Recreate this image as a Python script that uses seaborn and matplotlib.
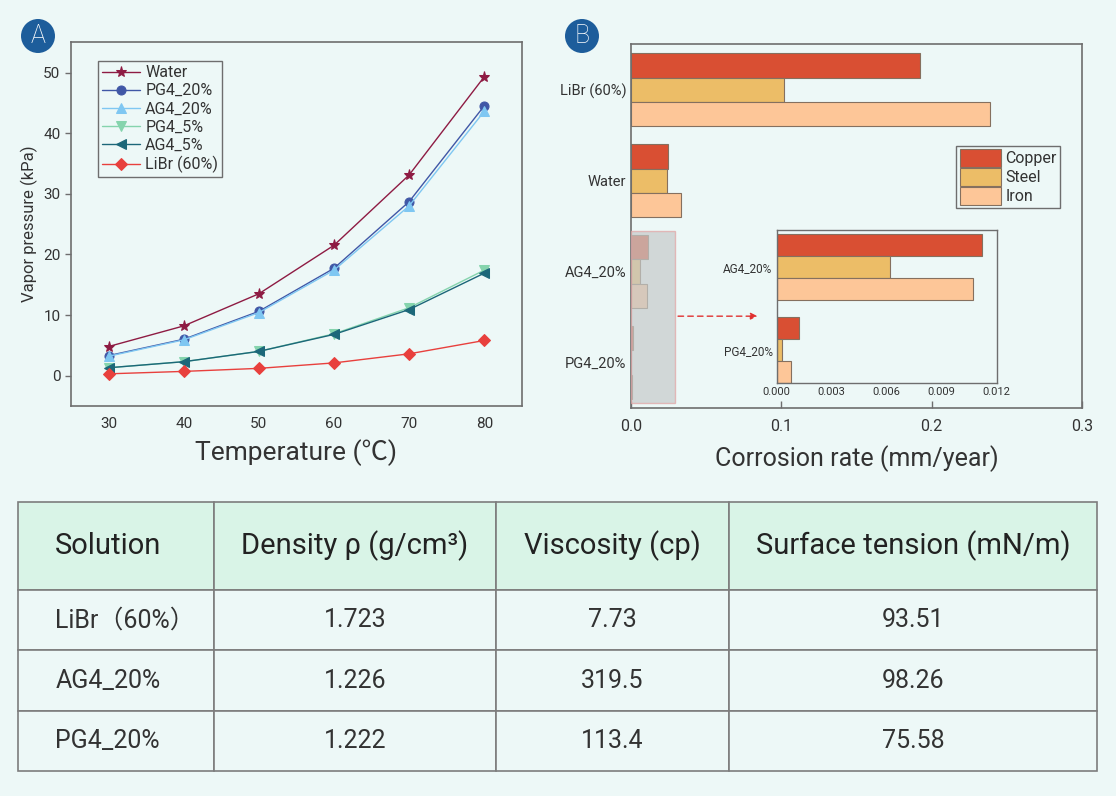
import pandas as pd
import matplotlib.pyplot as plt
import seaborn as sns
from matplotlib.patches import Rectangle

# Data
temps = [30, 40, 50, 60, 70, 80]
water = [4.8, 8.2, 13.5, 21.5, 33.1, 49.3]
pg4_20 = [3.3, 6.0, 10.6, 17.7, 28.7, 44.5]
ag4_20 = [3.2, 5.9, 10.4, 17.4, 28.0, 43.6]
pg4_5 = [1.3, 2.3, 4.0, 6.9, 11.2, 17.4]
ag4_5 = [1.3, 2.3, 4.0, 6.8, 10.9, 16.9]
libr = [0.3, 0.7, 1.2, 2.1, 3.6, 5.8]
vp_names = ["Water", "PG4_20%", "AG4_20%", "PG4_5%", "AG4_5%", "LiBr (60%)"]

solutions = ["LiBr (60%)", "Water", "AG4_20%", "PG4_20%"]
metals = ["Copper", "Steel", "Iron"]
copper = [0.192, 0.0244, 0.0112, 0.0012]
steel = [0.102, 0.0242, 0.0062, 0.0003]
iron = [0.239, 0.0335, 0.0107, 0.0008]

table_cols = ["Solution", "Density ρ (g/cm³)", "Viscosity (cp)", "Surface tension (mN/m)"]
table_solutions = ["LiBr（60%）", "AG4_20%", "PG4_20%"]
density = ["1.723", "1.226", "1.222"]
viscosity = ["7.73", "319.5", "113.4"]
surface_tension = ["93.51", "98.26", "75.58"]

# Style
BG = "#edf8f7"
TXT = "#333333"
SPINE = "#6e6e6e"
sns.set_theme(style="ticks")
plt.rcParams["font.family"] = ["Roboto", "Noto Sans CJK SC", "DejaVu Sans"]
plt.rcParams["text.color"] = TXT
plt.rcParams["axes.labelcolor"] = TXT
plt.rcParams["xtick.color"] = TXT
plt.rcParams["ytick.color"] = TXT

fig = plt.figure(figsize=(11.16, 7.96), dpi=100, facecolor=BG)

# ---- Panel A : vapor pressure ----
axA = fig.add_axes([0.0636, 0.490, 0.404, 0.457], facecolor=BG)
df_vp = pd.DataFrame({"Temperature": temps, "Water": water, "PG4_20%": pg4_20,
                      "AG4_20%": ag4_20, "PG4_5%": pg4_5, "AG4_5%": ag4_5,
                      "LiBr (60%)": libr})
df_vp = df_vp.melt(id_vars="Temperature", var_name="Solution", value_name="Pressure")
vp_palette = {"Water": "#8e1b43", "PG4_20%": "#4057a6", "AG4_20%": "#7fc7f2",
              "PG4_5%": "#85d4ad", "AG4_5%": "#1c6779", "LiBr (60%)": "#e8403d"}
vp_markers = {"Water": "*", "PG4_20%": "o", "AG4_20%": "^", "PG4_5%": "v",
              "AG4_5%": "<", "LiBr (60%)": "D"}
sns.lineplot(data=df_vp, x="Temperature", y="Pressure", hue="Solution", style="Solution",
             hue_order=vp_names, style_order=vp_names, palette=vp_palette,
             markers=vp_markers, dashes=False, linewidth=1, markersize=6.5, ax=axA)
for ln in axA.lines:
    ln.set_markeredgecolor(ln.get_color())
    if ln.get_marker() == "*":
        ln.set_markersize(8)
handles = axA.get_legend().legend_handles
for h in handles:
    h.set_markeredgecolor(h.get_color())
    h.set_markersize(8 if h.get_marker() == "*" else 6.5)
    h.set_linewidth(1)
axA.legend(handles, vp_names, loc="upper left", bbox_to_anchor=(0.06, 0.948),
           borderaxespad=0, frameon=True, fancybox=False, edgecolor=SPINE,
           facecolor=BG, framealpha=1, fontsize=11.5, handlelength=2.4,
           labelspacing=0.2, handletextpad=0.3, borderpad=0.25)
axA.set_xlim(25, 85)
axA.set_ylim(-5, 55)
axA.set_xticks(temps)
axA.set_yticks([0, 10, 20, 30, 40, 50])
axA.set_xlabel("Temperature (℃)", fontsize=19, labelpad=6)
axA.set_ylabel("Vapor pressure (kPa)", fontsize=12)
axA.tick_params(axis="x", length=0, labelsize=11, pad=8)
axA.tick_params(axis="y", direction="out", length=4, width=1, color=SPINE, labelsize=11)
for s in axA.spines.values():
    s.set_visible(True)
    s.set_color(SPINE)
    s.set_linewidth(1.2)

# ---- Panel B : corrosion rate ----
metal_palette = {"Copper": "#d94f33", "Steel": "#ecbd67", "Iron": "#fdc698"}
df_cr = pd.DataFrame({"Solution": solutions, "Copper": copper, "Steel": steel, "Iron": iron})
df_cr = df_cr.melt(id_vars="Solution", var_name="Metal", value_name="Rate")

axB = fig.add_axes([0.5654, 0.4874, 0.404, 0.457], facecolor=BG)
sns.barplot(data=df_cr, y="Solution", x="Rate", hue="Metal", order=solutions,
            hue_order=metals, palette=metal_palette, orient="h", errorbar=None,
            width=0.8, saturation=1, edgecolor="#85705f", linewidth=0.8, ax=axB)
axB.legend(loc="upper right", bbox_to_anchor=(0.951, 0.72), borderaxespad=0,
           frameon=True, fancybox=False, edgecolor=SPINE, facecolor=BG, framealpha=1,
           fontsize=11.5, handlelength=2.6, handleheight=1.3, labelspacing=0.1,
           handletextpad=0.25, borderpad=0.2)
axB.set_xlim(0, 0.3)
axB.set_ylim(3.5, -0.5)
axB.set_xticks([0, 0.1, 0.2, 0.3])
axB.set_xticklabels(["0.0", "0.1", "0.2", "0.3"])
axB.set_xlabel("Corrosion rate (mm/year)", fontsize=18, labelpad=8)
axB.set_ylabel("")
axB.tick_params(axis="x", direction="in", length=5, width=1, color=SPINE, labelsize=11.5, pad=8)
axB.tick_params(axis="y", length=0, labelsize=10.5)
for s in axB.spines.values():
    s.set_visible(True)
    s.set_color(SPINE)
    s.set_linewidth(1.2)

# zoomed region shade and arrow
axB.add_patch(Rectangle((0, 1.55), 0.0296, 1.89, facecolor="#c6caca", alpha=0.7,
                        edgecolor="#e3a3a3", linewidth=1, zorder=4))
axB.annotate("", xy=(0.0842, 2.49), xytext=(0.0313, 2.49),
             arrowprops=dict(arrowstyle="-|>", linestyle=(0, (4, 3)), color="#e03030",
                             lw=1, mutation_scale=10, shrinkA=0, shrinkB=0), zorder=5)

# inset
axI = fig.add_axes([0.696, 0.519, 0.197, 0.192], facecolor=BG, zorder=5)
sns.barplot(data=df_cr[df_cr["Solution"].isin(solutions[2:])], y="Solution", x="Rate",
            hue="Metal", order=solutions[2:], hue_order=metals, palette=metal_palette,
            orient="h", errorbar=None, width=0.8, saturation=1, edgecolor="#85705f",
            linewidth=0.8, legend=False, ax=axI)
axI.set_xlim(0, 0.012)
axI.set_ylim(1.4, -0.45)
axI.set_xticks([0, 0.003, 0.006, 0.009, 0.012])
axI.set_xticklabels(["0.000", "0.003", "0.006", "0.009", "0.012"])
axI.set_xlabel("")
axI.set_ylabel("")
axI.tick_params(axis="both", length=0)
axI.tick_params(axis="x", pad=3, labelsize=8)
axI.tick_params(axis="y", pad=3, labelsize=8.5)
for s in axI.spines.values():
    s.set_visible(True)
    s.set_color(SPINE)
    s.set_linewidth(1)

# panel badges
for x, y, letter in [(38, 36, "A"), (582, 36, "B")]:
    fig.text(x / 1116, 1 - y / 796, letter, color="white", fontsize=18, ha="center",
             va="center", fontweight="light",
             bbox=dict(boxstyle="circle,pad=0.2", facecolor="#1d5d9b", edgecolor="none"))

# ---- Table ----
axT = fig.add_axes([0.0161, 0.0314, 0.9668, 0.338])
axT.axis("off")
cells = [[table_solutions[i], density[i], viscosity[i], surface_tension[i]]
         for i in range(len(table_solutions))]
tbl = axT.table(cellText=cells, colLabels=table_cols, bbox=[0, 0, 1, 1],
                colWidths=[0.1817, 0.2613, 0.2159, 0.3411], cellLoc="center")
tbl.auto_set_font_size(False)
for (r, c), cell in tbl.get_celld().items():
    cell.set_edgecolor("#7d7d7d")
    cell.set_linewidth(1.2)
    cell.set_height(0.327 if r == 0 else 0.224)
    cell.get_text().set_color("#222222" if r == 0 else TXT)
    cell.get_text().set_fontsize(21 if r == 0 else 18)
    cell.set_facecolor("#d9f4e7" if r == 0 else BG)
    if c == 0:
        cell._loc = "left"
        cell.PAD = 0.19
        cell.get_text().set_ha("left")

fig.savefig("out.png", dpi=100, facecolor=BG)
